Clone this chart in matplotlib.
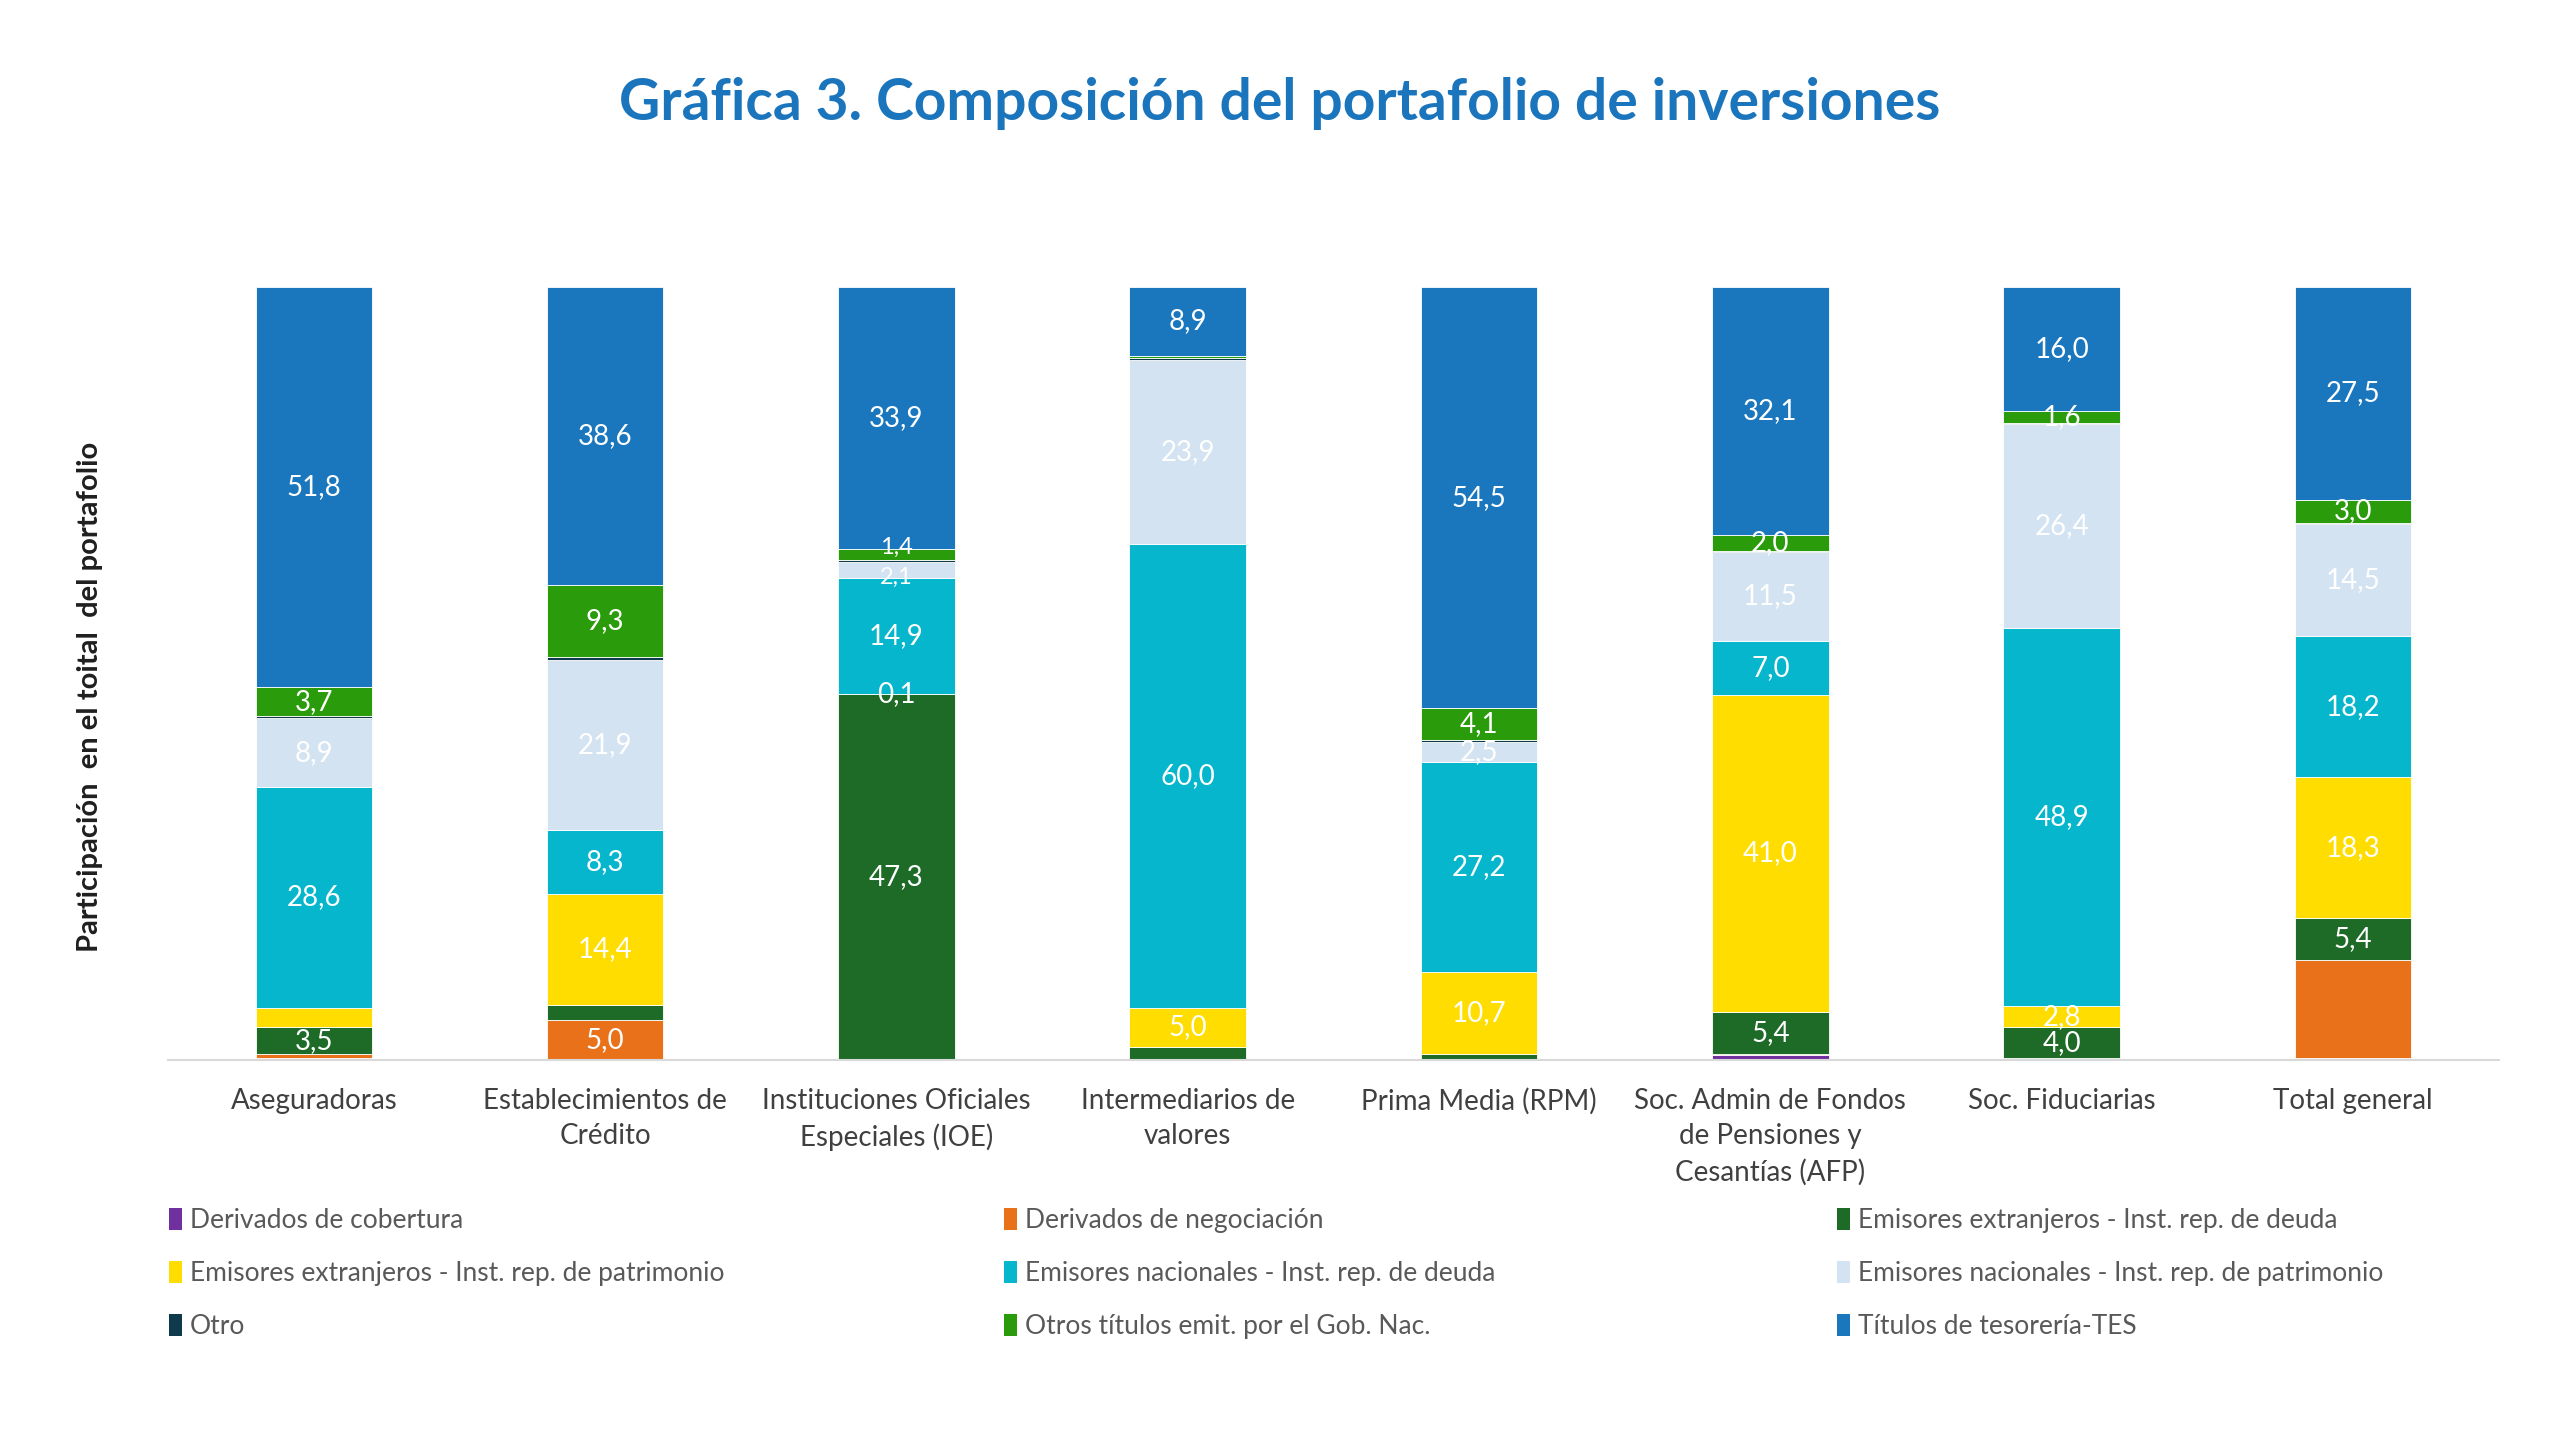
import matplotlib
matplotlib.use("Agg")
import matplotlib.pyplot as plt
from matplotlib.patches import Patch
import numpy as np

plt.rcParams['font.family'] = ['Lato', 'DejaVu Sans']

categories = ["Aseguradoras", "Establecimientos de\nCrédito",
              "Instituciones Oficiales\nEspeciales (IOE)", "Intermediarios de\nvalores",
              "Prima Media (RPM)", "Soc. Admin de Fondos\nde Pensiones y\nCesantías (AFP)",
              "Soc. Fiduciarias", "Total general"]

series_names = ["Derivados de cobertura", "Derivados de negociación",
                "Emisores extranjeros - Inst. rep. de deuda",
                "Emisores extranjeros - Inst. rep. de patrimonio",
                "Emisores nacionales - Inst. rep. de deuda",
                "Emisores nacionales - Inst. rep. de patrimonio",
                "Otro", "Otros títulos emit. por el Gob. Nac.", "Títulos de tesorería-TES"]

deriv_cobertura = [0.3, 0.1, 0.0, 0.0, 0.0, 0.6, 0.0, 0.3]
deriv_negociacion = [0.4, 5.0, 0.0, 0.0, 0.0, 0.2, 0.2, 12.6]
ext_deuda = [3.5, 2.0, 47.3, 1.7, 0.7, 5.4, 4.0, 5.4]
ext_patrimonio = [2.5, 14.4, 0.1, 5.0, 10.7, 41.0, 2.8, 18.3]
nac_deuda = [28.6, 8.3, 14.9, 60.0, 27.2, 7.0, 48.9, 18.2]
nac_patrimonio = [8.9, 21.9, 2.1, 23.9, 2.5, 11.5, 26.4, 14.5]
otro = [0.3, 0.4, 0.3, 0.2, 0.3, 0.2, 0.1, 0.2]
otros_titulos = [3.7, 9.3, 1.4, 0.3, 4.1, 2.0, 1.6, 3.0]
tes = [51.8, 38.6, 33.9, 8.9, 54.5, 32.1, 16.0, 27.5]

series_values = [deriv_cobertura, deriv_negociacion, ext_deuda, ext_patrimonio,
                 nac_deuda, nac_patrimonio, otro, otros_titulos, tes]

# category indices whose label is not printed in the original
labels_hidden = {0: [0, 1, 2, 3, 4, 5, 6, 7],
                 1: [0, 2, 3, 4, 5, 6, 7],
                 2: [1, 3, 4],
                 3: [0],
                 6: [0, 1, 2, 3, 4, 5, 6, 7],
                 7: [3]}

colors = ["#7030A0", "#E8711A", "#1D6B27", "#FFDD00", "#06B6CC",
          "#D3E3F1", "#0F3A4C", "#2A9B0A", "#1A77BE"]

fig = plt.figure(figsize=(25.6, 14.4), dpi=100)
ax = fig.add_axes([0.0657, 0.264, 0.9103, 0.5367])

x = np.arange(len(categories))
bottom = np.zeros(len(categories))
for si, (vals, col) in enumerate(zip(series_values, colors)):
    vals = np.array(vals)
    ax.bar(x, vals, 0.4, bottom=bottom, color=col, edgecolor="white",
           linewidth=0.6, label=series_names[si])
    hidden = labels_hidden.get(si, [])
    for ci, v in enumerate(vals):
        if ci in hidden or v <= 0:
            continue
        ypos = bottom[ci] + v / 2
        fs = 20
        # two tiny stacked segments in IOE: keep their labels from colliding
        if ci == 2 and si == 5:
            ypos -= 0.9
            fs = 17
        if ci == 2 and si == 7:
            ypos += 0.9
            fs = 17
        ax.text(x[ci], ypos, f"{v:.1f}".replace(".", ","),
                ha="center", va="center", color="white", fontsize=fs)
    bottom += vals

ax.set_xlim(-0.5, len(categories) - 0.5)
ax.set_ylim(0, 100)
ax.set_yticks([])
for s in ["top", "right", "left"]:
    ax.spines[s].set_visible(False)
ax.spines["bottom"].set_color("#D9D9D9")
ax.spines["bottom"].set_linewidth(1.5)
ax.set_xticks(x)
ax.set_xticklabels(categories, fontsize=20, color="#404040", linespacing=1.45)
ax.tick_params(axis="x", length=0, pad=20)

fig.text(0.5, 0.928, "Gráfica 3. Composición del portafolio de inversiones",
         ha="center", va="center", fontsize=41, fontweight="bold", color="#1B75BC")
fig.text(0.035, 0.516, "Participación  en el toital  del portafolio", rotation=90,
         ha="center", va="center", fontsize=21, fontweight="bold", color="#1F1F1F")

col_x = [0.0660, 0.3920, 0.7175]
for c in range(3):
    idxs = [c, c + 3, c + 6]
    handles = [Patch(facecolor=colors[i], edgecolor="none") for i in idxs]
    labels = [series_names[i] for i in idxs]
    fig.legend(handles, labels, loc="upper left", bbox_to_anchor=(col_x[c], 0.161),
               frameon=False, fontsize=19, handlelength=0.5, handleheight=0.9,
               handletextpad=0.3, labelspacing=1.05, labelcolor="#595959",
               borderaxespad=0, borderpad=0)

fig.savefig("out.png", dpi=100, facecolor="white")
